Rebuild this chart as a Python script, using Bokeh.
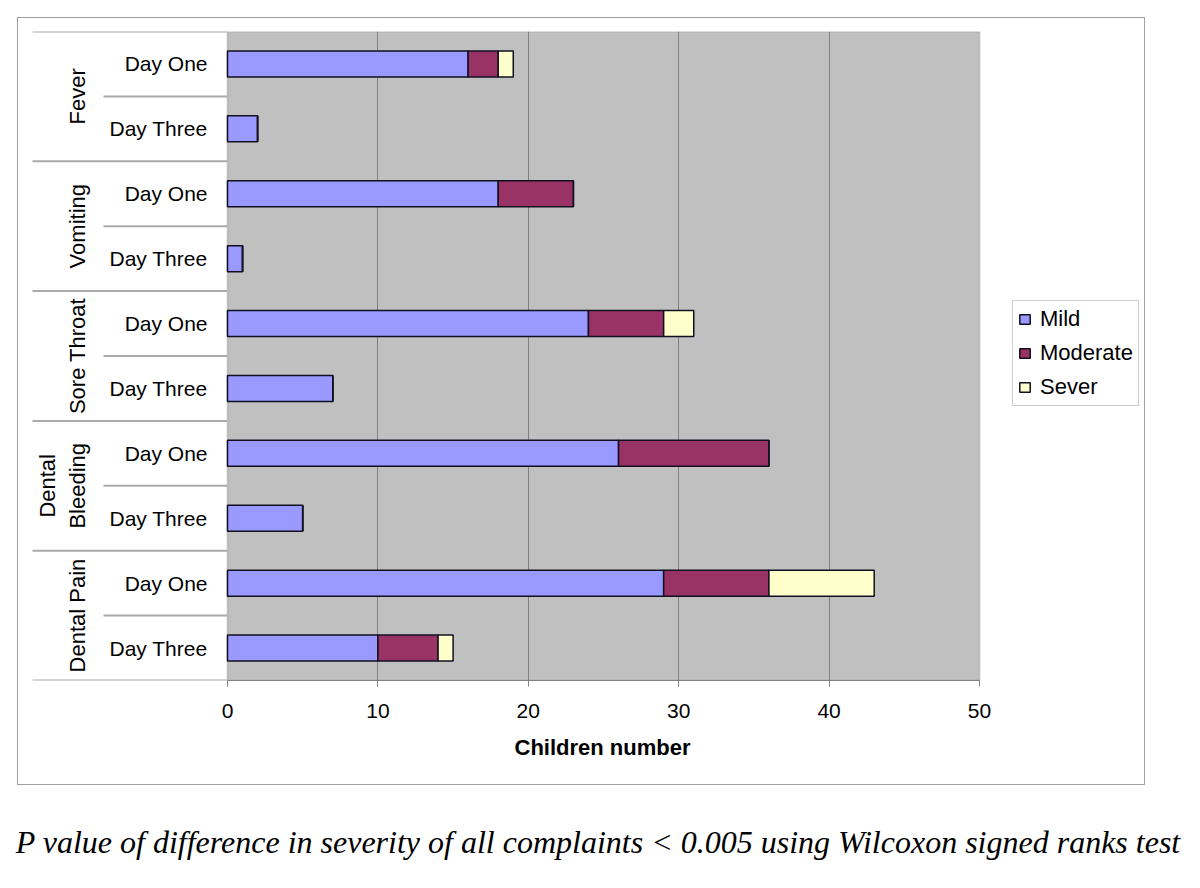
from bokeh.plotting import figure
from bokeh.models import Range1d, FixedTicker, Label, ColumnDataSource, BoxAnnotation, Div, Title
from bokeh.layouts import column
from bokeh.embed import file_html
from bokeh.resources import INLINE

# ---- data ----
complaints = ["Fever", "Vomiting", "Sore Throat", "Dental Bleeding", "Dental Pain"]
complaint_lines = [["Fever"], ["Vomiting"], ["Sore Throat"], ["Dental", "Bleeding"], ["Dental Pain"]]
days = ["Day One", "Day Three"]
severity = ["Mild", "Moderate", "Sever"]
mild = [16, 2, 18, 1, 24, 7, 26, 5, 29, 10]
moderate = [2, 0, 5, 0, 5, 0, 10, 0, 7, 4]
sever = [1, 0, 0, 0, 2, 0, 0, 0, 7, 1]
x_ticks = [0, 10, 20, 30, 40, 50]
colors = ["#9999FF", "#993366", "#FFFFCC"]
x_title = "Children number"
caption = "P value of difference in severity of all complaints < 0.005 using Wilcoxon signed ranks test"

FONT = "Liberation Sans"

# ---- layout constants (pixels) ----
FIG_W, FIG_H = 1128, 768
GRAY_L, GRAY_W = 209, 752          # plot area left offset and width inside the frame
TOP, BOTTOM = 13, 106
GROUP_LINE_L, DAY_LINE_L = 14, 85  # separator line starts (frame px)

x_max = x_ticks[-1]
ppu = GRAY_W / x_max
n_days = len(days)
n_rows = len(complaints) * n_days
rows = [i * n_days + j + 0.5 for i in range(len(complaints)) for j in range(n_days)]
source = ColumnDataSource(dict(y=rows, Mild=mild, Moderate=moderate, Sever=sever))

p = figure(width=FIG_W, height=FIG_H, output_backend="svg", toolbar_location=None,
           x_range=Range1d(-GRAY_L / ppu, (FIG_W - GRAY_L) / ppu),
           y_range=Range1d(n_rows, 0),
           y_axis_location=None,
           min_border_left=0, min_border_right=0, min_border_top=TOP, min_border_bottom=BOTTOM,
           background_fill_color="white", border_fill_color="white",
           outline_line_color=None,
           margin=(17, 0, 0, 17),
           styles={"border": "1px solid #a0a0a0"})

# gray plot area
p.add_layout(BoxAnnotation(left=0, right=x_max, fill_color="#C0C0C0", fill_alpha=1,
                           line_color="#808080", line_width=2, level="image"))

# separator lines of the category axis
g_bounds = [k * n_days for k in range(len(complaints) + 1)]
d_bounds = [k * n_days + 1 for k in range(len(complaints))]
p.segment(x0=[(GROUP_LINE_L - GRAY_L) / ppu] * len(g_bounds), y0=g_bounds,
          x1=[0] * len(g_bounds), y1=g_bounds, line_color="#ababab", line_width=2)
p.segment(x0=[(DAY_LINE_L - GRAY_L) / ppu] * len(d_bounds), y0=d_bounds,
          x1=[0] * len(d_bounds), y1=d_bounds, line_color="#ababab", line_width=2)

p.hbar_stack(severity, y="y", height=0.4, source=source, fill_color=colors,
             line_color="#101020", line_width=1.5, legend_label=severity)

# grid
p.ygrid.visible = False
p.xgrid.ticker = FixedTicker(ticks=x_ticks[1:-1])
p.xgrid.grid_line_color = "#808080"
p.xgrid.grid_line_width = 1

# x axis
xa = p.xaxis[0]
xa.ticker = FixedTicker(ticks=x_ticks)
xa.bounds = (0, x_max)
xa.axis_line_color = "#808080"
xa.major_tick_line_color = "#808080"
xa.major_tick_out = 6
xa.major_tick_in = 0
xa.minor_tick_line_color = None
xa.major_label_text_font = FONT
xa.major_label_text_font_size = "21px"
xa.major_label_text_color = "black"
xa.major_label_standoff = 17

# axis title, centred under the plot area (frame is wider than the plot area)
p.add_layout(Title(text=x_title, align="left", offset=496, standoff=24,
                   text_font=FONT, text_font_size="22px", text_font_style="bold",
                   text_color="black"), "below")

# category labels
for i, c in enumerate(complaints):
    for j, d in enumerate(days):
        p.add_layout(Label(x=189, y=rows[i * n_days + j], x_units="screen", y_units="data",
                           text=d, text_align="right", text_baseline="middle",
                           text_font=FONT, text_font_size="21px", text_color="black"))
    lines = complaint_lines[i]
    for k, ln in enumerate(lines):
        xoff = 59 - 30 * (len(lines) - 1 - k)
        p.add_layout(Label(x=xoff, y=i * n_days + n_days / 2, x_units="screen", y_units="data",
                           text=ln, angle=90, angle_units="deg",
                           text_align="center", text_baseline="middle",
                           text_font=FONT, text_font_size="22px", text_color="black"))

# legend
lg = p.legend[0]
lg.location = (994, 274)
lg.label_text_font = FONT
lg.label_text_font_size = "22px"
lg.label_text_color = "black"
lg.glyph_width = 13
lg.glyph_height = 12
lg.label_height = 22
lg.label_standoff = 9
lg.spacing = 8
lg.padding = 5
lg.margin = 0
lg.border_line_color = "#a0a0a0"
lg.border_line_width = 1
lg.background_fill_color = "white"
lg.background_fill_alpha = 1

cap = Div(text=caption, width=1186, height=80,
          styles={"font-family": "'Liberation Serif', serif", "font-style": "italic",
                  "font-size": "32px", "line-height": "32px", "text-align": "center",
                  "padding-top": "36px", "color": "black", "white-space": "nowrap"})

layout = column(p, cap)
open("out.html", "w").write(file_html(layout, INLINE))
